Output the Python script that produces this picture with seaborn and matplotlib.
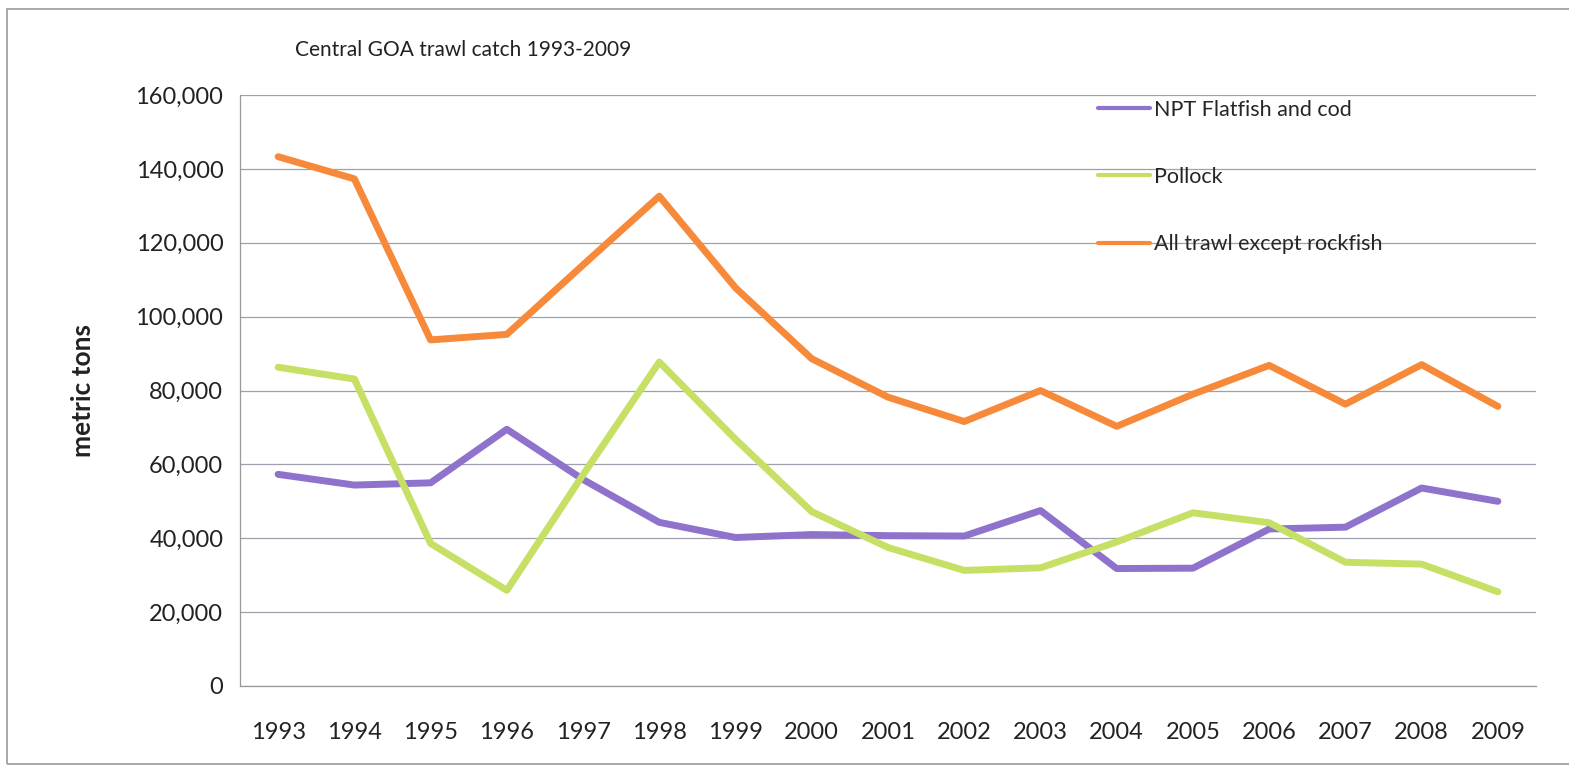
import numpy as np
import pandas as pd
import matplotlib
matplotlib.use("Agg")
import matplotlib.pyplot as plt
import matplotlib.ticker as mticker
from matplotlib.patches import Rectangle
import seaborn as sns

# data
years = list(range(1993, 2010))
npt_flatfish_cod = [57300, 54400, 55000, 69500, 55900, 44300, 40200, 41000, 40700,
                    40600, 47500, 31800, 31900, 42500, 43000, 53600, 50000]
pollock = [86300, 83100, 38600, 25900, 57200, 87700, 66800, 47200, 37500,
           31300, 32000, 39000, 46900, 44200, 33500, 33000, 25500]
all_trawl = [143300, 137300, 93700, 95200, 114000, 132600, 107800, 88600, 78200,
             71600, 80000, 70300, 79000, 86800, 76300, 87000, 75700]

series_names = ["NPT Flatfish and cod", "Pollock", "All trawl except rockfish"]
colors = ["#8f72cb", "#c6e065", "#f68a3a"]

df = pd.DataFrame({"year": years,
                   series_names[0]: npt_flatfish_cod,
                   series_names[1]: pollock,
                   series_names[2]: all_trawl})
long_df = df.melt(id_vars="year", var_name="series", value_name="tons")

sns.set_style("white")
plt.rcParams["font.family"] = ["Lato", "DejaVu Sans"]

fig = plt.figure(figsize=(15.69, 7.68), dpi=100)
ax = fig.add_axes([240 / 1569, 82 / 768, 1296 / 1569, 591 / 768])

sns.lineplot(data=long_df, x="year", y="tons", hue="series",
             hue_order=series_names, palette=colors, linewidth=5,
             ax=ax, legend=True)

ax.set_xlim(1992.5, 2009.5)
ax.set_ylim(0, 160000)
ax.set_yticks(np.arange(0, 160001, 20000))
ax.yaxis.set_major_formatter(mticker.FuncFormatter(lambda v, p: f"{int(v):,}"))
ax.set_xticks(years)
ax.set_xticklabels([str(y) for y in years])
ax.xaxis.set_minor_locator(mticker.FixedLocator(np.arange(1992.5, 2010, 1)))

ax.grid(axis="y", color="#a0a0ac", linewidth=0.9)
ax.tick_params(axis="x", which="major", length=0, pad=26, labelsize=17, colors="#222222")
ax.tick_params(axis="x", which="minor", length=7, width=0.8, color="#999999", direction="out")
ax.tick_params(axis="y", length=6, width=0.8, color="#999999", direction="out",
               labelsize=17, labelcolor="#222222", pad=6)

for s in ["top", "right"]:
    ax.spines[s].set_visible(False)
ax.spines["left"].set_color("#999999")
ax.spines["bottom"].set_color("#999999")
ax.spines["left"].set_linewidth(0.9)
ax.spines["bottom"].set_linewidth(0.9)

ax.set_xlabel("")
ax.set_ylabel("metric tons", fontsize=19, fontweight="bold", color="#222222")
ax.yaxis.set_label_coords(-0.112, 0.5)

fig.text(295 / 1569, 1 - 50 / 768, "Central GOA trawl catch 1993-2009",
         fontsize=15, color="#222222", va="center", ha="left")

handles, labels = ax.get_legend_handles_labels()
leg = ax.legend(handles, labels, loc="upper left",
                bbox_to_anchor=(1089 / 1569, 1 - 91 / 768), bbox_transform=fig.transFigure,
                frameon=False, fontsize=15.5, handlelength=2.45, handletextpad=0.15,
                labelspacing=2.2, borderaxespad=0)
for line in leg.get_lines():
    line.set_linewidth(3)

# scanned page border (right side runs off the page)
fig.patches.append(Rectangle((7 / 1569, 4 / 768), 1600 / 1569, 755 / 768,
                             transform=fig.transFigure, fill=False,
                             edgecolor="#9a9a9a", linewidth=1.2))

fig.savefig("out.png", dpi=100)
